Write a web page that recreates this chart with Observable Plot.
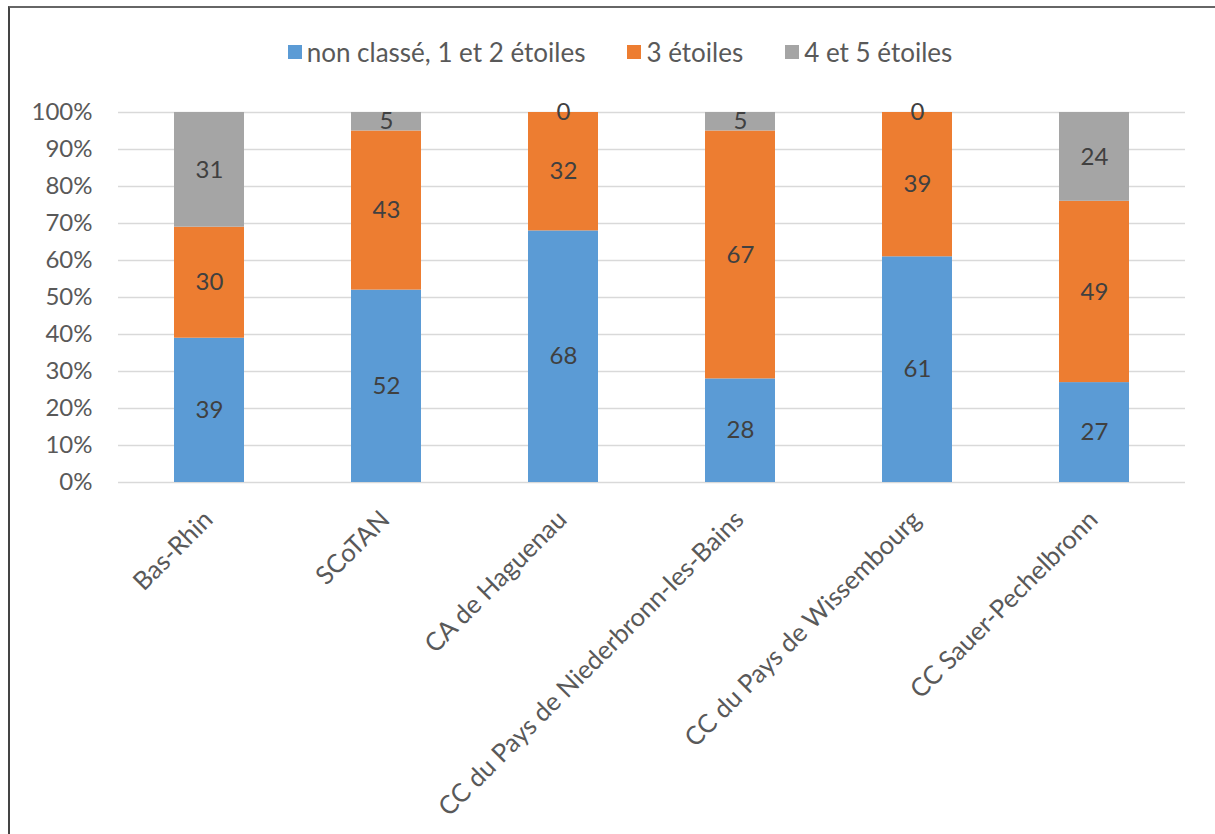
<!DOCTYPE html>
<html>
<head>
<meta charset="utf-8">
<script src="https://cdn.jsdelivr.net/npm/d3@7"></script>
<script src="https://cdn.jsdelivr.net/npm/@observablehq/plot@0.6"></script>
<style>
  html, body { margin: 0; padding: 0; background: #fff; }
  #wrap { position: relative; width: 1215px; height: 834px; overflow: hidden; font-family: Lato, "Open Sans", sans-serif; }
  #frame { position: absolute; left: 8px; top: 6px; width: 1300px; height: 900px; border-left: 2px solid #444; border-top: 2px solid #666; }
  #legend { position: absolute; top: 37px; left: 0; width: 1240px; display: flex; justify-content: center; gap: 42px; font-size: 26px; color: #595959; line-height: 30px; }
  #legend span.item { display: inline-flex; align-items: center; gap: 5px; }
  #legend span.sw { width: 14px; height: 14px; display: inline-block; }
  #chart { position: absolute; left: 0; top: 90px; }
</style>
</head>
<body>
<div id="wrap">
  <div id="frame"></div>
  <div id="legend"></div>
  <div id="chart"></div>
</div>
<script>
const categories = ["Bas-Rhin", "SCoTAN", "CA de Haguenau", "CC du Pays de Niederbronn-les-Bains", "CC du Pays de Wissembourg", "CC Sauer-Pechelbronn"];
const seriesNames = ["non classé, 1 et 2 étoiles", "3 étoiles", "4 et 5 étoiles"];
const colors = ["#5B9BD5", "#ED7D31", "#A5A5A5"];
const lowValues = [39, 52, 68, 28, 61, 27];
const midValues = [30, 43, 32, 67, 39, 49];
const highValues = [31, 5, 0, 5, 0, 24];
const yTicks = [0, 0.1, 0.2, 0.3, 0.4, 0.5, 0.6, 0.7, 0.8, 0.9, 1];

const seriesValues = [lowValues, midValues, highValues];
const data = [];
seriesNames.forEach((s, si) => {
  categories.forEach((c, ci) => {
    data.push({category: c, series: s, value: seriesValues[si][ci]});
  });
});

// legend
const legend = document.getElementById("legend");
seriesNames.forEach((s, i) => {
  const item = document.createElement("span");
  item.className = "item";
  const sw = document.createElement("span");
  sw.className = "sw";
  sw.style.background = colors[i];
  item.appendChild(sw);
  item.appendChild(document.createTextNode(s));
  legend.appendChild(item);
});

const stackOpts = {x: "category", y: "value", z: "series", order: seriesNames, offset: "normalize"};

const chart = Plot.plot({
  width: 1215,
  height: 744,
  marginTop: 22,
  marginBottom: 352,
  marginLeft: 118,
  marginRight: 30,
  style: {fontFamily: "Lato, 'Open Sans', sans-serif", fontSize: "24px", color: "#595959", background: "transparent"},
  x: {domain: categories, paddingInner: 0.605, paddingOuter: 0.3025, label: null},
  y: {domain: [0, 1], label: null},
  color: {domain: seriesNames, range: colors},
  marks: [
    Plot.ruleY(yTicks, {stroke: "#d9d9d9", strokeWidth: 1.5}),
    Plot.axisY({ticks: yTicks, tickFormat: d => Math.round(d * 100) + "%", tickSize: 0, tickPadding: 26, fontSize: 24, label: null}),
    Plot.axisX({tickRotate: -45, tickSize: 0, tickPadding: 33, dx: -1, fontSize: 25.5, label: null}),
    Plot.barY(data, Plot.stackY({...stackOpts, fill: "series"})),
    Plot.text(data, Plot.stackY({...stackOpts, text: "value", fill: "#404040", fontSize: 24}))
  ]
});
document.getElementById("chart").appendChild(chart);
</script>
</body>
</html>
